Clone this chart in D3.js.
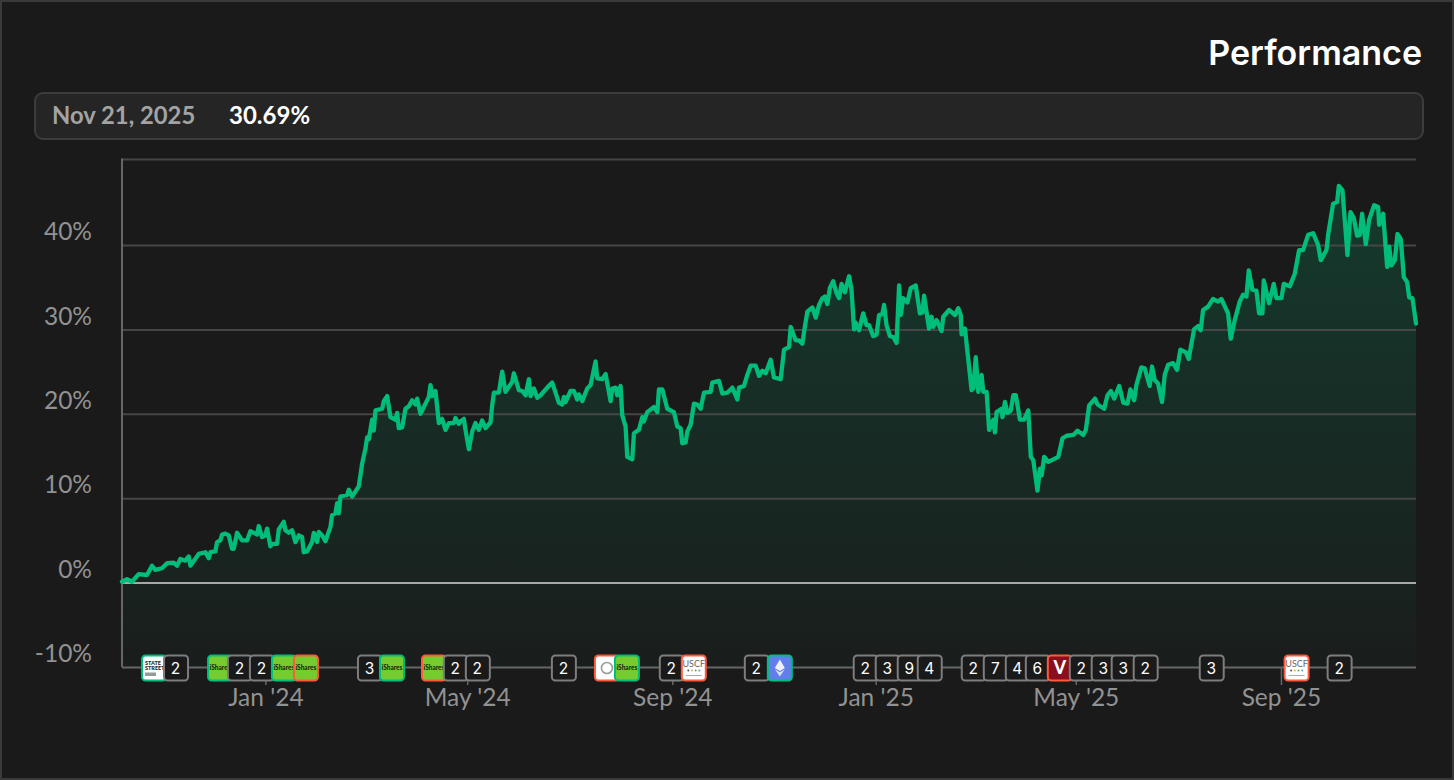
<!DOCTYPE html>
<meta charset="utf-8">
<style>
    html, body { margin: 0; background: #1a1a1a; }
    svg { display: block; }
    text { font-family: "Lato", sans-serif; }
    .axis path { display: none; }
    .y.axis line { stroke: #464646; stroke-width: 2px; }
    .y.axis text, .x.axis text { fill: #929292; font-size: 24.5px; }
    .x.axis line { stroke: #666; stroke-width: 1.5px; }
    .frame { stroke: #666; stroke-width: 2px; fill: none; }
</style>

<svg id="chart" width="1454" height="780"></svg>

<script src="https://d3js.org/d3.v7.min.js"></script>
<script>

    // days since the first point of the series
    var trendDays = [
        0,3,6,10,15,18,20,24,27,31,
        33,35,38,40,41,46,50,52,53,56,
        57,59,60,62,64,66,67,69,72,75,
        77,81,82,84,86,87,89,90,93,94,
        97,98,100,102,104,106,108,109,111,114,
        115,117,118,120,122,125,126,128,129,130,
        131,135,136,138,142,144,146,147,148,150,
        151,152,156,157,159,161,164,165,166,168,
        170,172,174,176,177,179,182,184,185,186,
        188,190,192,194,196,199,200,202,203,205,
        206,208,210,212,214,216,218,221,222,223,
        226,228,230,234,235,238,240,242,244,245,
        247,249,251,255,258,260,262,264,265,266,
        269,271,273,274,276,279,281,284,285,288,
        290,293,294,296,297,299,300,302,303,306,
        307,310,312,313,315,319,321,322,324,327,
        331,333,335,336,338,339,341,343,345,347,
        349,353,354,358,360,363,366,369,370,373,
        375,377,380,382,384,386,389,391,395,397,
        400,401,404,406,408,409,411,414,416,418,
        420,421.5,423,424.5,426.5,428.5,430,431.5,433.5,436,
        437.5,439,440,442,444.5,446.5,448,450.5,452.5,454,
        456,457,458.5,460.5,462.5,464.5,466,467,468.5,471,
        473,476,478.5,480,481,484,485.5,486.5,488.5,491.5,
        492.5,496,499.5,501.5,503,503.5,505.5,509.5,510.5,512,
        513.5,515.5,516.5,518.5,520,522.5,523.5,524.5,527.5,528,
        529.5,531,533,534.5,536,538.5,541,543.5,545,546.5,
        549,550.5,551.5,553,555.5,561.5,564,566.5,570.5,573,
        576.5,578,580,583.5,585,589,591,593,595,598,
        600.5,603,604.7,607,608.3,611.3,613.3,616.3,617.7,619.3,
        621.3,623.7,625.3,627.3,630.3,632.7,634.7,637.9,639.7,642.9,
        645.3,646.9,648.3,651.3,654.3,657.3,659.3,663.3,664.9,667.3,
        670.3,672.3,674.3,675.7,677.9,680.3,681.9,683.9,684.7,687.9,
        690.7,692.3,695.3,696.7,700.3,703.3,705.9,708.3,711.3,714.3,
        717.3,718.9,722.3,723.3,726.3,728.7,729.7,731.9,734.9,736.7,
        738.7,740.7,742.3,743.7,745.9,747.9,750.9,753.3,753.9,756.3,
        758.7,759.9,761.3,763.3,764.9,766.9,768.7,770.7,771.9,773.9,
        776
    ];

    // performance in percent, same order as trendDays
    var trendValues = [
        0.1,0.4,0.1,1.0,0.9,2.0,1.5,1.7,2.3,2.35,
        2.0,2.8,2.6,3.1,2.0,3.4,3.6,2.9,3.6,3.7,
        4.8,5.0,5.7,5.8,5.6,4.0,4.0,5.9,5.0,5.0,
        6.1,5.7,6.7,5.4,5.6,6.4,4.3,4.6,4.6,6.3,
        7.2,6.2,5.9,6.2,4.8,5.6,5.4,3.6,3.7,4.8,
        5.9,4.8,6.0,5.6,4.9,6.6,8.0,8.2,9.4,8.2,
        10.2,10.4,11.0,10.2,11.4,14.1,15.9,17.2,17.0,19.3,
        18.0,20.4,20.6,21.5,22.1,19.6,19.3,20.1,18.3,18.4,
        20.6,20.9,21.6,21.1,21.8,20.0,21.2,22.0,23.4,22.1,
        22.7,18.9,19.4,18.1,18.9,18.9,19.5,18.8,19.1,19.4,
        18.1,15.8,17.9,18.9,18.1,19.2,18.3,19.0,21.0,22.5,
        22.5,25.0,22.6,23.8,24.8,22.8,22.7,22.2,24.1,22.1,
        23.0,21.9,22.2,23.1,23.7,22.5,21.3,21.1,22.0,21.4,
        22.7,22.7,21.7,22.3,21.5,23.0,23.4,26.2,24.2,24.1,
        24.7,21.5,23.0,23.1,22.2,23.3,19.8,18.5,14.9,14.6,
        17.7,18.1,19.6,19.1,20.2,20.8,20.2,22.9,22.9,20.6,
        20.2,18.5,18.3,16.5,16.6,17.9,18.7,21.2,21.1,20.6,
        22.5,22.6,23.7,23.9,22.4,22.5,23.1,21.7,23.1,23.3,
        24.6,25.7,25.7,24.5,25.1,24.8,26.4,24.3,24.1,27.6,
        27.9,30.3,28.7,28.7,28.3,29.7,32.1,32.6,31.4,32.9,
        33.7,33.9,33.0,34.9,35.7,34.3,33.7,35.4,34.4,36.3,
        34.7,30.0,30.8,29.9,31.9,30.5,30.5,29.2,29.4,31.7,
        31.8,32.9,30.5,29.2,29.1,28.4,35.2,31.7,33.7,33.2,
        34.9,35.2,31.9,32.0,34.0,30.1,31.5,30.3,31.1,29.8,
        31.5,32.3,31.7,32.5,31.7,29.4,30.1,22.8,23.0,26.7,
        22.6,24.6,22.6,22.6,18.1,19.3,17.8,20.2,20.6,19.6,
        21.4,20.1,20.4,22.2,22.2,19.3,19.3,20.4,14.9,14.5,
        10.9,13.5,12.7,14.9,14.3,14.9,17.1,17.4,17.5,18.0,
        17.5,18.1,21.0,21.8,21.1,20.6,22.2,22.7,21.8,23.3,
        21.3,21.2,22.9,21.6,23.4,25.5,25.4,23.3,25.6,24.0,
        23.6,21.4,24.6,25.8,26.0,25.2,27.6,27.3,26.5,30.0,
        30.4,29.9,32.3,32.7,33.6,33.3,33.6,31.9,28.9,31.1,
        33.3,34.1,33.9,37.0,34.7,34.6,31.9,31.9,35.8,33.1,
        35.4,33.7,33.7,35.4,35.1,36.6,39.4,39.4,41.2,41.4,
        40.0,38.2,39.4,41.2,44.9,45.1,47.0,46.5,38.8,43.9,
        43.2,41.1,41.2,43.7,40.1,43.0,44.7,44.5,42.4,43.7,
        37.4,39.8,37.6,38.2,41.3,40.7,36.2,35.6,33.8,33.7,
        30.69
    ];

    var yTicks = [-10, 0, 10, 20, 30, 40];
    var xTicks = ["2024-01-01", "2024-05-01", "2024-09-01", "2025-01-01", "2025-05-01", "2025-09-01"];

    // events along the bottom axis: day offset and what the badge shows
    var eventDays = [19.2,32.4,58.8,70.7,83.9,97.1,110.3,148.7,161.9,187.1,200.2,213.4,265,290.8,302.8,329.7,342.9,380.7,394.5,
        446,459.2,472.4,484.4,510.8,524,537.2,549.2,562.4,575.6,588.7,600.7,613.9,653.5,704.4,730.2];
    var eventLabels = ["ss","2","ish+","2","2","ish+","ish-","3","ish+","ish-","2","2","2","o-","ish+","2","uscf-","2","eth+",
        "2","3","9","4","2","7","4","6","v-","2","3","3","2","3","uscf-","2"];

    var startDate = new Date(2023, 9, 7);
    var endDate = new Date(2025, 10, 21);
    var dayToDate = d => new Date(startDate.getTime() + d * 864e5);

    var data = trendDays.map((d, i) => ({date: dayToDate(d), value: trendValues[i]}));

    var left = 122, right = 1416, top_ = 159.5, bottom = 667;
    var green = "#00bd7a", red = "#ff5a3c";

    var x = d3.scaleTime().domain([startDate, endDate]).range([left, right]);
    var y = d3.scaleLinear().domain([-10, 50]).range([bottom, 160.6]);

    var svg = d3.select("#chart");

    // outer card
    svg.append("rect").attr("x", 1).attr("y", 1).attr("width", 1452).attr("height", 778)
        .attr("fill", "#1a1a1a").attr("stroke", "#3a3a3a").attr("stroke-width", 2);

    svg.append("text").attr("x", 1422).attr("y", 65).attr("text-anchor", "end")
        .style("font-family", "Inter").style("font-size", "34px").style("font-weight", 600)
        .attr("fill", "#fff").text("Performance");

    // info bar
    svg.append("rect").attr("x", 35).attr("y", 93).attr("width", 1388).attr("height", 46).attr("rx", 8)
        .attr("fill", "#252525").attr("stroke", "#3c3c3c").attr("stroke-width", 2);
    svg.append("text").attr("x", 52).attr("y", 124)
        .style("font-size", "23.8px").style("font-weight", 700).attr("fill", "#a3a3a3").text("Nov 21, 2025");
    svg.append("text").attr("x", 229).attr("y", 124)
        .style("font-size", "24px").style("font-weight", 700).attr("fill", "#fff").text("30.69%");

    var defs = svg.append("defs");
    var grad = defs.append("linearGradient").attr("id", "fade")
        .attr("gradientUnits", "userSpaceOnUse").attr("x1", 0).attr("x2", 0).attr("y1", 187).attr("y2", bottom);
    grad.append("stop").attr("offset", "0%").attr("stop-color", green).attr("stop-opacity", 0.2);
    grad.append("stop").attr("offset", "100%").attr("stop-color", green).attr("stop-opacity", 0.02);

    var area = d3.area().x(d => x(d.date)).y0(bottom).y1(d => y(d.value));
    var line = d3.line().x(d => x(d.date)).y(d => y(d.value));

    svg.append("path").datum(data).attr("d", area).attr("fill", "url(#fade)");

    // grid + y labels
    var yAxis = svg.append("g").attr("class", "y axis").attr("transform", "translate(" + left + ",0)")
        .call(d3.axisLeft(y).tickValues(yTicks).tickSize(-(right - left)).tickFormat(d => d + "%"));
    yAxis.selectAll("text").attr("x", -30).attr("dy", "-0.22em");
    yAxis.selectAll(".tick").filter(d => d === 0).select("line").style("stroke", "#a8a8a8");
    yAxis.selectAll(".tick").filter(d => d === -10).select("line").style("stroke", "#666");

    svg.append("path").attr("class", "frame").style("stroke", "#464646")
        .attr("d", d3.line()([[left, top_], [right, top_]]));
    svg.append("path").attr("class", "frame").attr("d", d3.line()([[left, top_ - 1], [left, bottom]]));

    // x axis
    var xAxis = svg.append("g").attr("class", "x axis").attr("transform", "translate(0," + bottom + ")")
        .call(d3.axisBottom(x).tickValues(xTicks.map(d => d3.timeParse("%Y-%m-%d")(d)))
            .tickSize(18).tickPadding(1).tickFormat(d3.timeFormat("%b '%y")));
    xAxis.selectAll("text").attr("y", 16).attr("dy", "0.95em");

    svg.append("path").datum(data).attr("d", line).attr("fill", "none")
        .attr("stroke", green).attr("stroke-width", 4.3).attr("stroke-linejoin", "round").attr("stroke-linecap", "round");

    // badges
    var bw = 26, bh = 27;
    var events = eventDays.map((d, i) => ({day: d, label: eventLabels[i]}));
    var badge = svg.append("g").selectAll("g").data(events).enter().append("g")
        .attr("transform", d => "translate(" + (x(dayToDate(d.day)) - bw / 2) + ",654.5)");

    badge.each(function(d) {
        var g = d3.select(this);
        var kind = d.label.replace(/[+-]$/, "");
        var edge = d.label.endsWith("+") || kind === "ss" ? green : d.label.endsWith("-") ? red : "#7d7d7d";
        var fills = {ish: "#76cc2f", ss: "#fff", o: "#fff", uscf: "#fff", eth: "#627eea", v: "#8a0f1e"};

        g.append("rect").attr("x", 1).attr("y", 1).attr("width", bw - 2).attr("height", bh - 2).attr("rx", 3.5)
            .attr("fill", fills[kind] || "#1a1a1a").attr("stroke", edge).attr("stroke-width", 2);

        if (kind === "ish") {
            g.append("text").attr("x", 13).attr("y", 15.5).attr("text-anchor", "middle")
                .style("font-size", "6.5px").style("font-weight", 900).attr("fill", "#1a2a0a").text("iShares");
        } else if (kind === "ss") {
            ["STATE", "STREET"].forEach(function(t, i) {
                g.append("text").attr("x", 4).attr("y", 10 + i * 5.5)
                    .style("font-size", "5.5px").style("font-weight", 900).attr("fill", "#222").text(t);
            });
            g.append("rect").attr("x", 4).attr("y", 18).attr("width", 11).attr("height", 3.5).attr("fill", "#999");
        } else if (kind === "o") {
            g.append("circle").attr("cx", 13).attr("cy", 13.5).attr("r", 5.5)
                .attr("fill", "none").attr("stroke", "#9a9a9a").attr("stroke-width", 1.6);
        } else if (kind === "uscf") {
            g.append("text").attr("x", 13).attr("y", 12.5).attr("text-anchor", "middle")
                .style("font-size", "9px").attr("fill", "#666").text("USCF");
            ["#555", "#d9b93b", "#5fa85a", "#4aa3d9"].forEach(function(c, i) {
                g.append("circle").attr("cx", 7.5 + i * 3.7).attr("cy", 16).attr("r", 1).attr("fill", c);
            });
            g.append("rect").attr("x", 5).attr("y", 20.5).attr("width", 16).attr("height", 1).attr("fill", "#aab");
        } else if (kind === "eth") {
            g.append("path").attr("d", "M13 5L18 13.5L13 16.5L8 13.5Z").attr("fill", "#fff").attr("opacity", 0.9);
            g.append("path").attr("d", "M13 17.8L18 14.8L13 22L8 14.8Z").attr("fill", "#fff").attr("opacity", 0.75);
        } else if (kind === "v") {
            g.append("text").attr("x", 13).attr("y", 19.5).attr("text-anchor", "middle")
                .style("font-size", "18px").style("font-weight", 900).attr("fill", "#fff").text("V");
        } else {
            g.append("text").attr("x", 12.5).attr("y", 19).attr("text-anchor", "middle")
                .style("font-family", "Inter").style("font-size", "15.5px").attr("fill", "#fff").text(d.label);
        }
    });

</script>
